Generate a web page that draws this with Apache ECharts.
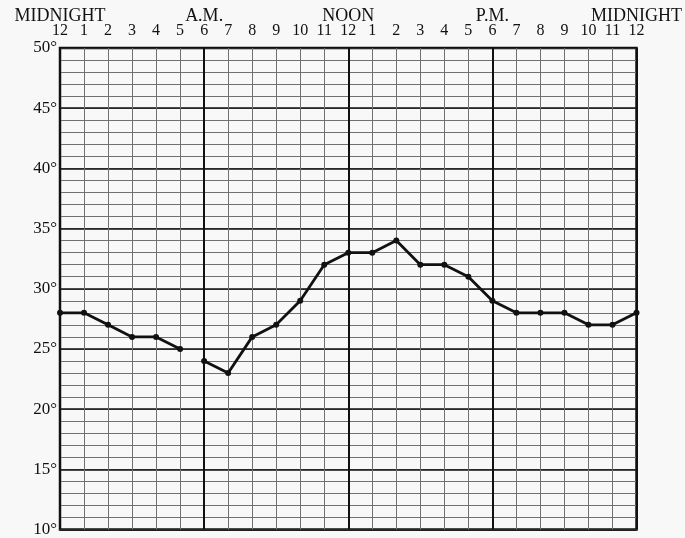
<!DOCTYPE html>
<html>
<head>
<meta charset="utf-8">
<script src="https://cdn.jsdelivr.net/npm/echarts@6/dist/echarts.min.js"></script>
<style>
  html, body { margin: 0; padding: 0; background: #f8f8f8; }
  #chart { width: 685px; height: 538px; }
</style>
</head>
<body>
<div id="chart"></div>
<script>
// Hourly temperature (°F) from midnight to midnight
const hourLabels = ['12','1','2','3','4','5','6','7','8','9','10','11','12','1','2','3','4','5','6','7','8','9','10','11','12'];
const periodLabels = ['MIDNIGHT', 'A.M.', 'NOON', 'P.M.', 'MIDNIGHT'];
const temperatures = [28, 28, 27, 26, 26, 25, 24, 23, 26, 27, 29, 32, 33, 33, 34, 32, 32, 31, 29, 28, 28, 28, 27, 27, 28];
// The trace is interrupted between these two hours
const gapAfterHour = 5;
const yTicks = [10, 15, 20, 25, 30, 35, 40, 45, 50];

const pts = temperatures.map((t, i) => [i, t]);
const morning = pts.slice(0, gapAfterHour + 1);
const rest = pts.slice(gapAfterHour + 1);

const serif = '"Liberation Serif", "DejaVu Serif", serif';
const lineStyle = { color: '#111', width: 2.8 };

const seriesBase = {
  type: 'line',
  xAxisIndex: 0,
  yAxisIndex: 0,
  symbol: 'circle',
  symbolSize: 6,
  itemStyle: { color: '#111' },
  lineStyle: lineStyle,
  z: 10,
  animation: false
};

const chart = echarts.init(document.getElementById('chart'));
chart.setOption({
  backgroundColor: '#f8f8f8',
  animation: false,
  grid: {
    left: 60, top: 48, right: 48, bottom: 6,
    show: true, borderColor: '#111', borderWidth: 2.5, backgroundColor: 'transparent'
  },
  xAxis: [
    {
      type: 'value', min: 0, max: 24, interval: 1, position: 'top',
      axisLine: { show: false }, axisTick: { show: false },
      axisLabel: {
        margin: 9, color: '#111', fontFamily: serif, fontSize: 16, fontWeight: 500,
        showMinLabel: true, showMaxLabel: true,
        formatter: v => hourLabels[v]
      },
      splitLine: { show: true, lineStyle: { color: '#707070', width: 1 } }
    },
    {
      type: 'value', min: 0, max: 24, interval: 6, position: 'top',
      axisLine: { show: false }, axisTick: { show: false },
      axisLabel: {
        margin: 23, color: '#111', fontFamily: serif, fontSize: 18,
        showMinLabel: true, showMaxLabel: true,
        formatter: v => periodLabels[v / 6]
      },
      splitLine: { show: true, lineStyle: { color: '#111', width: 2 } }
    }
  ],
  yAxis: [
    {
      type: 'value', min: 10, max: 50, interval: 1, position: 'left',
      axisLine: { show: false }, axisTick: { show: false },
      axisLabel: { show: false },
      splitLine: { show: true, lineStyle: { color: '#707070', width: 1 } }
    },
    {
      type: 'value', min: yTicks[0], max: yTicks[yTicks.length - 1], interval: 5, position: 'left',
      axisLine: { show: false }, axisTick: { show: false },
      axisLabel: {
        margin: 3, color: '#111', fontFamily: serif, fontSize: 17,
        showMinLabel: true, showMaxLabel: true,
        formatter: v => v + '°'
      },
      splitLine: { show: true, lineStyle: { color: '#111', width: 1.6 } }
    }
  ],
  series: [
    Object.assign({ data: morning }, seriesBase),
    Object.assign({ data: rest }, seriesBase)
  ]
});
</script>
</body>
</html>
